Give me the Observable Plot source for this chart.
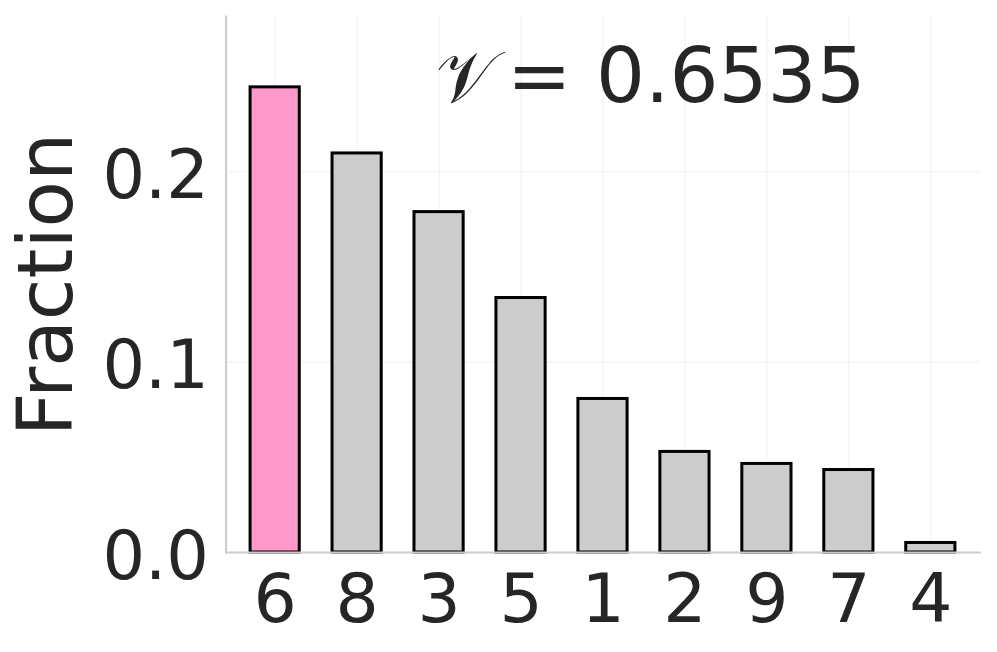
<!DOCTYPE html>
<html>
<head>
<meta charset="utf-8">
<script src="https://cdn.jsdelivr.net/npm/d3@7"></script>
<script src="https://cdn.jsdelivr.net/npm/@observablehq/plot@0.6"></script>
<style>
  html, body { margin: 0; padding: 0; background: #fff; }
  #chart svg { display: block; }
</style>
</head>
<body>
<div id="chart"></div>
<script>
const categories = ["6", "8", "3", "5", "1", "2", "9", "7", "4"];
const fractions = [0.2442, 0.2095, 0.1787, 0.1336, 0.0806, 0.0528, 0.0465, 0.0433, 0.005];
const highlighted = "6";
const yTicks = [0, 0.1, 0.2];
const yLabel = "Fraction";
const annotationSymbol = "𝒱";
const annotationValue = "= 0.6535";

const data = categories.map((c, i) => ({cat: c, value: fractions[i]}));
const ink = "#262626";

const chart = Plot.plot({
  width: 997,
  height: 652,
  marginLeft: 225.5,
  marginRight: 17.5,
  marginTop: 16,
  marginBottom: 100,
  style: {fontFamily: "DejaVu Sans, sans-serif", color: ink, background: "#fff"},
  x: {domain: categories, paddingInner: 0.4, paddingOuter: 0.3, round: false, label: null},
  y: {domain: [0, 0.2814], label: null},
  marks: [
    Plot.gridX(categories, {stroke: "#ebebeb", strokeOpacity: 0.5, strokeWidth: 1.5}),
    Plot.gridY(yTicks.filter(d => d > 0), {stroke: "#ebebeb", strokeOpacity: 0.5, strokeWidth: 1.5}),
    Plot.barY(data, {
      x: "cat", y: "value",
      fill: d => d.cat === highlighted ? "#ff99cc" : "#cccccc",
      stroke: "#000", strokeWidth: 3
    }),
    Plot.axisX({tickSize: 0, tickPadding: 21, fontSize: 68, color: ink, label: null}),
    Plot.axisY({ticks: yTicks, tickFormat: d3.format(".1f"), tickSize: 0, tickPadding: 17, fontSize: 67, dy: 5, color: ink, label: null}),
    Plot.frame({anchor: "left", stroke: "#cccccc", strokeWidth: 2}),
    Plot.frame({anchor: "bottom", stroke: "#cccccc", strokeWidth: 2}),
    Plot.text([yLabel], {frameAnchor: "left", text: d => d, rotate: -90, dx: -178.5, fontSize: 76, fill: ink, lineAnchor: "middle", textAnchor: "middle"}),
    Plot.text([annotationSymbol], {frameAnchor: "top-left", text: d => d, textAnchor: "end", lineAnchor: "bottom", dx: 270, dy: 85.7, fontSize: 72, fill: ink}),
    Plot.text([annotationValue], {frameAnchor: "top-left", text: d => d, textAnchor: "start", lineAnchor: "bottom", dx: 281, dy: 85.7, fontSize: 77, fill: ink})
  ]
});
document.getElementById("chart").appendChild(chart);
</script>
</body>
</html>
